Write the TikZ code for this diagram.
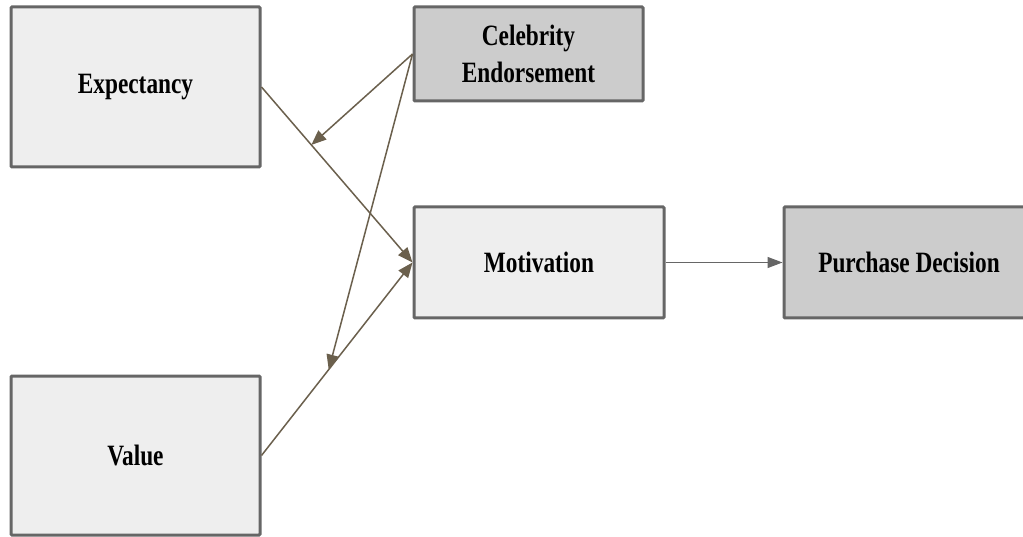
\documentclass[tikz,border=0pt]{standalone}
\usepackage{fontspec}
\usepackage{graphicx}
\setmainfont{Liberation Serif}
\usetikzlibrary{arrows.meta,calc}
\definecolor{boxline}{HTML}{666666}
\definecolor{lightfill}{HTML}{EEEEEE}
\definecolor{darkfill}{HTML}{CCCCCC}
\definecolor{arrowbrown}{RGB}{107,96,77}
\newcommand\narrowtxt[1]{\scalebox{0.79}[1]{#1}}
\begin{document}
\begin{tikzpicture}[x=1pt,y=-1pt,
  boxbase/.style={draw=boxline,line width=3pt,rounded corners=1pt,inner sep=0pt,
    font=\fontsize{29.5}{37}\selectfont\bfseries},
  lightbox/.style={boxbase,fill=lightfill},
  darkbox/.style={boxbase,fill=darkfill},
  brownarrow/.style={draw=arrowbrown,line width=1.5pt,
    -{Triangle[length=15pt,width=12pt]}},
  grayarrow/.style={draw=boxline,line width=1.2pt,
    -{Triangle[length=15pt,width=11pt]}}
]
\useasboundingbox (0,0) rectangle (1023,537);
\clip (0,0) rectangle (1023,537);
\fill[white] (0,0) rectangle (1023,537);

\node[lightbox,minimum width=249pt,minimum height=160pt] (E) at (135.5,87) {\narrowtxt{Expectancy}};
\node[lightbox,minimum width=249pt,minimum height=159pt] (V) at (135.5,455.5) {\narrowtxt{Value}};
\node[darkbox,minimum width=229pt,minimum height=94pt] (C) at (528.5,54)
  {\raisebox{-3pt}[\height][\depth]{\narrowtxt{\begin{tabular}{@{}c@{}}Celebrity\\Endorsement\end{tabular}}}};
\node[lightbox,minimum width=250pt,minimum height=111pt] (M) at (539,262.5) {\narrowtxt{Motivation}};
\node[darkbox,minimum width=250pt,minimum height=111pt] (P) at (909,262.5) {\narrowtxt{Purchase Decision}};

\coordinate (c1) at ($(E.east)!0.33!(M.west)$);
\coordinate (c2) at ($(V.east)!0.445!(M.west)$);

\draw[brownarrow] (E.east) -- (M.west);
\draw[brownarrow] (V.east) -- (M.west);
\draw[brownarrow] (C.west) -- (c1);
\draw[brownarrow] (C.west) -- (c2);
\draw[grayarrow] (M.east) -- (P.west);
\end{tikzpicture}
\end{document}
